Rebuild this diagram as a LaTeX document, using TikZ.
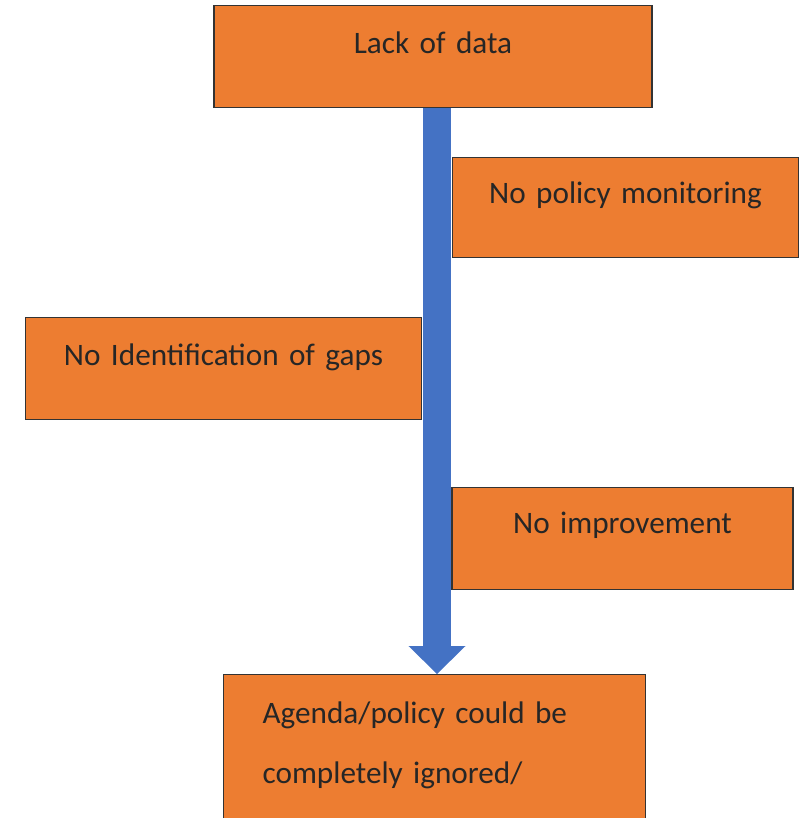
\documentclass[tikz,border=0pt]{standalone}
\usepackage{fontspec}
\setmainfont{Carlito}
\usetikzlibrary{arrows.meta,positioning}
\definecolor{boxorange}{HTML}{ED7D31}
\definecolor{arrowblue}{HTML}{4472C4}

\begin{document}
\begin{tikzpicture}[x=0.025cm,y=-0.025cm,thick]
\tikzstyle{box}=[rectangle,draw=black!80,line width=0.9pt,fill=boxorange,inner sep=0pt,
                 align=center,text=black!85,font=\fontsize{22.2pt}{26pt}\selectfont]
\tikzstyle{blue_arrow}=[draw=arrowblue,line width=0.675cm,
                 -{Triangle[width=1.425cm,length=0.7cm,line width=0pt]}]

\useasboundingbox (0,0) rectangle (799,818);

\coordinate (axis) at (437,0);

\node[box,anchor=north,text width=10.95cm,text height=1.2cm,text depth=1.35cm] (lack_data) at (433,5) {Lack of data};
\node[box,anchor=north west,align=left,inner xsep=0.975cm,text width=8.6cm,text height=1.225cm,text depth=2.475cm,
      font=\fontsize{22.2pt}{42.68pt}\selectfont] (ignored) at (223,674) {Agenda/policy could be\\completely ignored/};

\draw[blue_arrow] (lack_data.south -| axis) -- (ignored.north -| axis);

\node[box,anchor=north,text width=8.65cm,text height=1.15cm,text depth=1.35cm] (monitoring) at (625.5,157) {No policy monitoring};
\node[box,anchor=north,text width=9.9cm,text height=1.2cm,text depth=1.35cm] (gaps) at (223.5,317) {No Identification of gaps};
\node[box,anchor=north,text width=8.525cm,text height=1.15cm,text depth=1.4cm] (improvement) at (622.5,487) {No improvement};
\end{tikzpicture}
\end{document}
